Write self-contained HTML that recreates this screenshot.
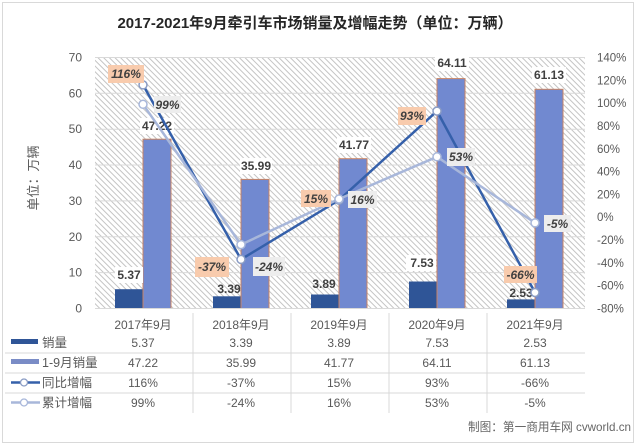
<!DOCTYPE html>
<html><head><meta charset="utf-8"><style>
html,body{margin:0;padding:0;background:#fff;}
svg{display:block;}
text{font-family:"Liberation Sans","Noto Sans CJK SC",sans-serif;}
</style></head><body>
<svg width="640" height="445" viewBox="0 0 640 445" xmlns="http://www.w3.org/2000/svg">
<defs>
<pattern id="hatch" width="4" height="4" patternUnits="userSpaceOnUse" patternTransform="rotate(-45)">
<rect width="4" height="4" fill="#ffffff"/>
<line x1="0.5" y1="0" x2="0.5" y2="4" stroke="#c4c4c4" stroke-width="1"/>
</pattern>
</defs>
<rect x="0" y="0" width="640" height="445" fill="#fff"/>
<rect x="2.5" y="2.5" width="631" height="440" fill="none" stroke="#d9d9d9" stroke-width="1"/>

<text x="315" y="28" font-size="15" font-weight="bold" fill="#262626" text-anchor="middle">2017-2021年9月牵引车市场销量及增幅走势（单位：万辆）</text>

<!-- plot area -->
<rect x="95" y="57.5" width="490" height="251" fill="url(#hatch)"/>
<g stroke="#d9d9d9" stroke-width="1">
<line x1="95" y1="272.6" x2="585" y2="272.6"/>
<line x1="95" y1="236.8" x2="585" y2="236.8"/>
<line x1="95" y1="200.9" x2="585" y2="200.9"/>
<line x1="95" y1="165.0" x2="585" y2="165.0"/>
<line x1="95" y1="129.2" x2="585" y2="129.2"/>
<line x1="95" y1="93.3" x2="585" y2="93.3"/>
<line x1="95" y1="57.5" x2="585" y2="57.5"/>
</g>

<!-- left axis labels -->
<g font-size="12" fill="#595959" text-anchor="end">
<text x="82" y="312.5">0</text>
<text x="82" y="276.6">10</text>
<text x="82" y="240.8">20</text>
<text x="82" y="204.9">30</text>
<text x="82" y="169">40</text>
<text x="82" y="133.2">50</text>
<text x="82" y="97.3">60</text>
<text x="82" y="61.5">70</text>
</g>
<text transform="translate(38,178) rotate(-90)" font-size="13" fill="#595959" text-anchor="middle">单位：万辆</text>

<!-- right axis labels -->
<g font-size="11.5" fill="#595959" text-anchor="start">
<text x="597" y="61.5">140%</text>
<text x="597" y="84.3">120%</text>
<text x="597" y="107.1">100%</text>
<text x="597" y="129.9">80%</text>
<text x="597" y="152.8">60%</text>
<text x="597" y="175.6">40%</text>
<text x="597" y="198.4">20%</text>
<text x="597" y="221.2">0%</text>
<text x="597" y="244.1">-20%</text>
<text x="597" y="266.9">-40%</text>
<text x="597" y="289.7">-60%</text>
<text x="597" y="312.5">-80%</text>
</g>

<!-- bars -->
<g fill="#2f5597">
<rect x="115" y="289.2" width="28" height="19.3"/>
<rect x="213" y="296.3" width="28" height="12.2"/>
<rect x="311" y="294.5" width="28" height="14"/>
<rect x="409" y="281.5" width="28" height="27"/>
<rect x="507" y="299.4" width="28" height="9.1"/>
</g>
<g fill="#7189d0" stroke="#c98464" stroke-width="1">
<rect x="143" y="139.2" width="28" height="169.3"/>
<rect x="241" y="179.4" width="28" height="129.1"/>
<rect x="339" y="158.7" width="28" height="149.8"/>
<rect x="437" y="78.6" width="28" height="229.9"/>
<rect x="535" y="89.3" width="28" height="219.2"/>
</g>
<line x1="95" y1="308.5" x2="585" y2="308.5" stroke="#d9d9d9" stroke-width="1"/>

<!-- bar labels -->
<g fill="#fff">
<rect x="115" y="267" width="28" height="16"/>
<rect x="140" y="118" width="34" height="16"/>
<rect x="240" y="158" width="32" height="16"/>
<rect x="337" y="137" width="34" height="16"/>
<rect x="406" y="255" width="30" height="16"/>
<rect x="435" y="55" width="34" height="16"/>
<rect x="532" y="67" width="34" height="16"/>
</g>
<g font-size="12" font-weight="bold" fill="#404040" text-anchor="middle">
<text x="129" y="279">5.37</text>
<text x="157" y="130">47.22</text>
<text x="229" y="293">3.39</text>
<text x="256" y="170">35.99</text>
<text x="324" y="288">3.89</text>
<text x="354" y="149">41.77</text>
<text x="422" y="267">7.53</text>
<text x="452" y="67">64.11</text>
<text x="549" y="79">61.13</text>
<text x="521" y="297">2.53</text>
</g>

<!-- lines -->
<polyline points="143,84.9 241,259.4 339,200.1 437,111.1 535,292.5" fill="none" stroke="#3560aa" stroke-width="2.5" stroke-linejoin="round"/>
<polyline points="143,104.3 241,244.6 339,199 437,156.8 535,222.9" fill="none" stroke="#a8b7da" stroke-width="2.5" stroke-linejoin="round"/>
<g fill="#fff" stroke="#8a9cc4" stroke-width="1.5">
<circle cx="143" cy="84.9" r="4"/>
<circle cx="241" cy="259.4" r="4"/>
<circle cx="339" cy="200.1" r="4"/>
<circle cx="437" cy="111.1" r="4"/>
<circle cx="535" cy="292.5" r="4"/>
</g>
<g fill="#fff" stroke="#a8b7da" stroke-width="1.5">
<circle cx="143" cy="104.3" r="4"/>
<circle cx="241" cy="244.6" r="4"/>
<circle cx="339" cy="199" r="4"/>
<circle cx="437" cy="156.8" r="4"/>
<circle cx="535" cy="222.9" r="4"/>
</g>

<!-- line labels -->
<g fill="#f8cbad">
<rect x="108" y="65" width="36" height="18"/>
<rect x="195" y="257" width="34" height="20"/>
<rect x="301" y="190" width="30" height="17"/>
<rect x="398" y="107" width="28" height="18"/>
<rect x="504" y="266" width="33" height="17"/>
</g>
<g fill="#ededed">
<rect x="154" y="96" width="27" height="17"/>
<rect x="253" y="257" width="32" height="19"/>
<rect x="348" y="191" width="29" height="17"/>
<rect x="447" y="148" width="28" height="18"/>
<rect x="544" y="215" width="27" height="17"/>
</g>
<g font-size="12" font-weight="bold" font-style="italic" fill="#404040" text-anchor="middle">
<text x="126" y="78">116%</text>
<text x="212" y="271">-37%</text>
<text x="316" y="203">15%</text>
<text x="412" y="120">93%</text>
<text x="520.5" y="279">-66%</text>
<text x="167.5" y="109">99%</text>
<text x="269" y="271">-24%</text>
<text x="362.5" y="204">16%</text>
<text x="461" y="161">53%</text>
<text x="557.5" y="228">-5%</text>
</g>

<!-- data table -->
<g stroke="#d9d9d9" stroke-width="1">
<line x1="5" y1="353" x2="585" y2="353"/>
<line x1="5" y1="373" x2="585" y2="373"/>
<line x1="5" y1="393" x2="585" y2="393"/>
<line x1="193" y1="313" x2="193" y2="413"/>
<line x1="291" y1="313" x2="291" y2="413"/>
<line x1="389" y1="313" x2="389" y2="413"/>
<line x1="487" y1="313" x2="487" y2="413"/>
</g>
<g font-size="12" fill="#595959" text-anchor="middle">
<text x="143" y="329">2017年9月</text>
<text x="241" y="329">2018年9月</text>
<text x="339" y="329">2019年9月</text>
<text x="437" y="329">2020年9月</text>
<text x="535" y="329">2021年9月</text>

<text x="143" y="347">5.37</text>
<text x="241" y="347">3.39</text>
<text x="339" y="347">3.89</text>
<text x="437" y="347">7.53</text>
<text x="535" y="347">2.53</text>

<text x="143" y="367">47.22</text>
<text x="241" y="367">35.99</text>
<text x="339" y="367">41.77</text>
<text x="437" y="367">64.11</text>
<text x="535" y="367">61.13</text>

<text x="143" y="387">116%</text>
<text x="241" y="387">-37%</text>
<text x="339" y="387">15%</text>
<text x="437" y="387">93%</text>
<text x="535" y="387">-66%</text>

<text x="143" y="407">99%</text>
<text x="241" y="407">-24%</text>
<text x="339" y="407">16%</text>
<text x="437" y="407">53%</text>
<text x="535" y="407">-5%</text>
</g>

<!-- legend keys -->
<rect x="11" y="339" width="27" height="5" fill="#2f5597"/>
<rect x="11" y="359" width="28" height="5" fill="#7a8cc6"/>
<line x1="11" y1="382.5" x2="40" y2="382.5" stroke="#3560aa" stroke-width="2.5"/>
<circle cx="24" cy="382.5" r="3.5" fill="#fff" stroke="#8a9cc4" stroke-width="1.3"/>
<line x1="11" y1="402.5" x2="40" y2="402.5" stroke="#a8b7da" stroke-width="2.5"/>
<circle cx="24" cy="402.5" r="3.5" fill="#fff" stroke="#a8b7da" stroke-width="1.3"/>
<g font-size="12.5" fill="#595959">
<text x="42" y="347">销量</text>
<text x="42" y="367">1-9月销量</text>
<text x="42" y="387">同比增幅</text>
<text x="42" y="407">累计增幅</text>
</g>

<text x="468" y="431" font-size="12" fill="#666" textLength="163" lengthAdjust="spacingAndGlyphs">制图：第一商用车网 cvworld.cn</text>
</svg>
</body></html>
